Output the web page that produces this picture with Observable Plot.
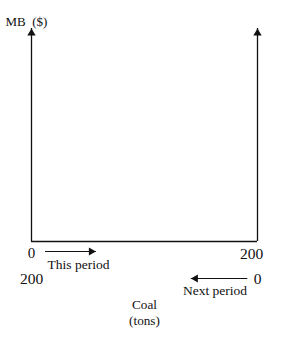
<!DOCTYPE html>
<html><head><meta charset="utf-8">
<script src="https://cdn.jsdelivr.net/npm/d3@7"></script>
<script src="https://cdn.jsdelivr.net/npm/@observablehq/plot@0.6"></script>
<style>body{margin:0;background:#fff} svg{display:block}</style>
</head><body><div id="chart"></div>
<script>
// Coal quantity (tons) axis domain
const coalDomain = [0, 200];
// Marginal benefit axis domain (no values shown)
const mbDomain = [0, 100];
// Tick labels for this period (left to right) and next period (reversed)
const thisPeriodTicks = [0, 200];
const nextPeriodTicks = [200, 0];
// Direction arrows, in coal units along the axis
const thisArrow = {from: 12, to: 57};
const nextArrow = {from: 191, to: 141};
const yTitle = "MB  ($)";
const xTitle = "Coal\n(tons)";
const thisLabel = "This period";
const nextLabel = "Next period";

const ink = "#111";
const font = "'Liberation Serif', 'Times New Roman', serif";
// next-period scale runs opposite to this-period scale
const nextPos = v => coalDomain[1] - v;

const chart = Plot.plot({
  width: 302, height: 338,
  marginLeft: 31, marginRight: 45, marginTop: 28, marginBottom: 97,
  x: {domain: coalDomain, axis: null},
  y: {domain: mbDomain, axis: null},
  style: {fontFamily: font, background: "white", color: ink},
  marks: [
    // vertical axes (this period at left, next period at right)
    Plot.ruleX([coalDomain[0], coalDomain[1]], {y1: mbDomain[0], y2: mbDomain[1], stroke: ink, strokeWidth: 1.3}),
    Plot.dot([coalDomain[0], coalDomain[1]], {x: d => d, y: mbDomain[1], dy: 4.7, symbol: "triangle", r: 3.1, fill: ink, stroke: "none"}),
    // horizontal axis
    Plot.ruleY([mbDomain[0]], {x1: coalDomain[0], x2: coalDomain[1], stroke: ink, strokeWidth: 1.3}),
    // this-period ticks
    Plot.text(thisPeriodTicks.filter(d => d === coalDomain[0]), {x: d => d, y: 0, dy: 12, text: d => String(d), fontSize: 15, textAnchor: "middle"}),
    Plot.text(thisPeriodTicks.filter(d => d === coalDomain[1]), {x: d => d, y: 0, dy: 12.5, dx: -6, text: d => String(d), fontSize: 15.5, textAnchor: "middle"}),
    // next-period ticks
    Plot.text(nextPeriodTicks, {x: nextPos, y: 0, dy: 37.5, text: d => String(d), fontSize: 15.5, textAnchor: "middle"}),
    // this-period arrow and label
    Plot.link([thisArrow], {x1: "from", x2: "to", y1: 0, y2: 0, dy: 10, stroke: ink, strokeWidth: 1.2}),
    Plot.dot([thisArrow], {x: "to", y: 0, dy: 10, dx: -4.7, rotate: 90, symbol: "triangle", r: 3, fill: ink, stroke: "none"}),
    Plot.text([thisLabel], {x: 41.6, y: 0, dy: 23.5, text: d => d, fontSize: 13.5, textAnchor: "middle"}),
    // next-period arrow and label
    Plot.link([nextArrow], {x1: "from", x2: "to", y1: 0, y2: 0, dy: 37, stroke: ink, strokeWidth: 1.2}),
    Plot.dot([nextArrow], {x: "to", y: 0, dy: 37, dx: 4.7, rotate: -90, symbol: "triangle", r: 3, fill: ink, stroke: "none"}),
    Plot.text([nextLabel], {x: 162.4, y: 0, dy: 49.5, text: d => d, fontSize: 13.5, textAnchor: "middle"}),
    // axis titles
    Plot.text([xTitle], {x: (coalDomain[0] + coalDomain[1]) / 2, y: 0, dy: 70, text: d => d, fontSize: 13.2, textAnchor: "middle", lineHeight: 1.25}),
    Plot.text([yTitle], {x: coalDomain[0], y: mbDomain[1], dx: -26, dy: -7, text: d => d, fontSize: 13, textAnchor: "start"})
  ]
});
document.getElementById("chart").appendChild(chart);
</script>
</body></html>
